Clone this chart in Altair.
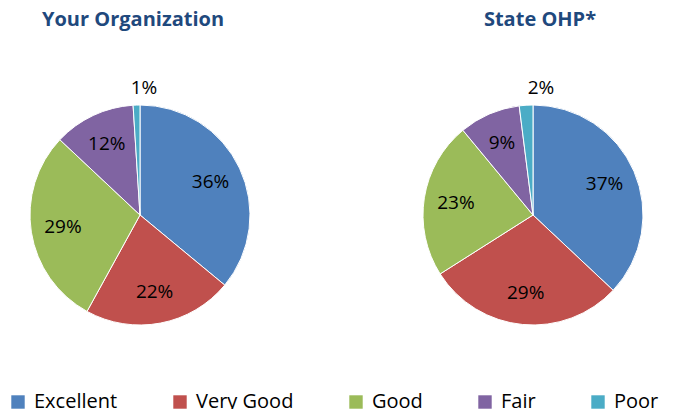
import altair as alt
import pandas as pd

categories = ["Excellent", "Very Good", "Good", "Fair", "Poor"]
org_values = [36, 22, 29, 12, 1]
state_values = [37, 29, 23, 9, 2]
titles = ["Your Organization", "State OHP*"]
colors = ["#4F81BD", "#C0504D", "#9BBB59", "#8064A2", "#4BACC6"]

FONT = "Open Sans"

def make_df(vals):
    return pd.DataFrame({
        "category": categories,
        "value": vals,
        "order": list(range(len(categories))),
        "label": [f"{v}%" for v in vals],
    })

color_scale = alt.Scale(domain=categories, range=colors)

def pie(vals, title, show_legend, title_dx):
    df = make_df(vals)
    base = alt.Chart(df).encode(
        theta=alt.Theta("value:Q", stack=True),
        order=alt.Order("order:Q"),
    )
    legend = alt.Legend(
        orient="none", legendX=0, legendY=362, direction="horizontal",
        columns=5, title=None, symbolType="square", symbolSize=180,
        labelFontSize=20, labelFont=FONT, labelColor="#000000",
        columnPadding=52, labelOffset=6, symbolStrokeWidth=0, padding=0,
    ) if show_legend else None
    arc = base.mark_arc(outerRadius=110, stroke="white", strokeWidth=1).encode(
        color=alt.Color("category:N", scale=color_scale, sort=categories,
                        legend=legend),
    )
    text = base.transform_calculate(
        r="datum.value < 5 ? 127 : 78"
    ).mark_text(fontSize=19, font=FONT, color="#000000").encode(
        text="label:N",
        radius=alt.Radius("r:Q", scale=None),
    )
    return alt.layer(arc, text).properties(
        width=264, height=370,
        title=alt.Title(title, fontSize=20, font=FONT, fontWeight="bold",
                        color="#1F497D", anchor="middle", offset=0,
                        dx=title_dx),
    )

chart = alt.hconcat(
    pie(org_values, titles[0], True, -7),
    pie(state_values, titles[1], False, 7),
    spacing=129,
).properties(padding={"top": 2, "left": 0, "right": 0, "bottom": 0}).configure_view(stroke=None)

chart.save("out.html", embed_options={"renderer": "svg", "actions": False})
